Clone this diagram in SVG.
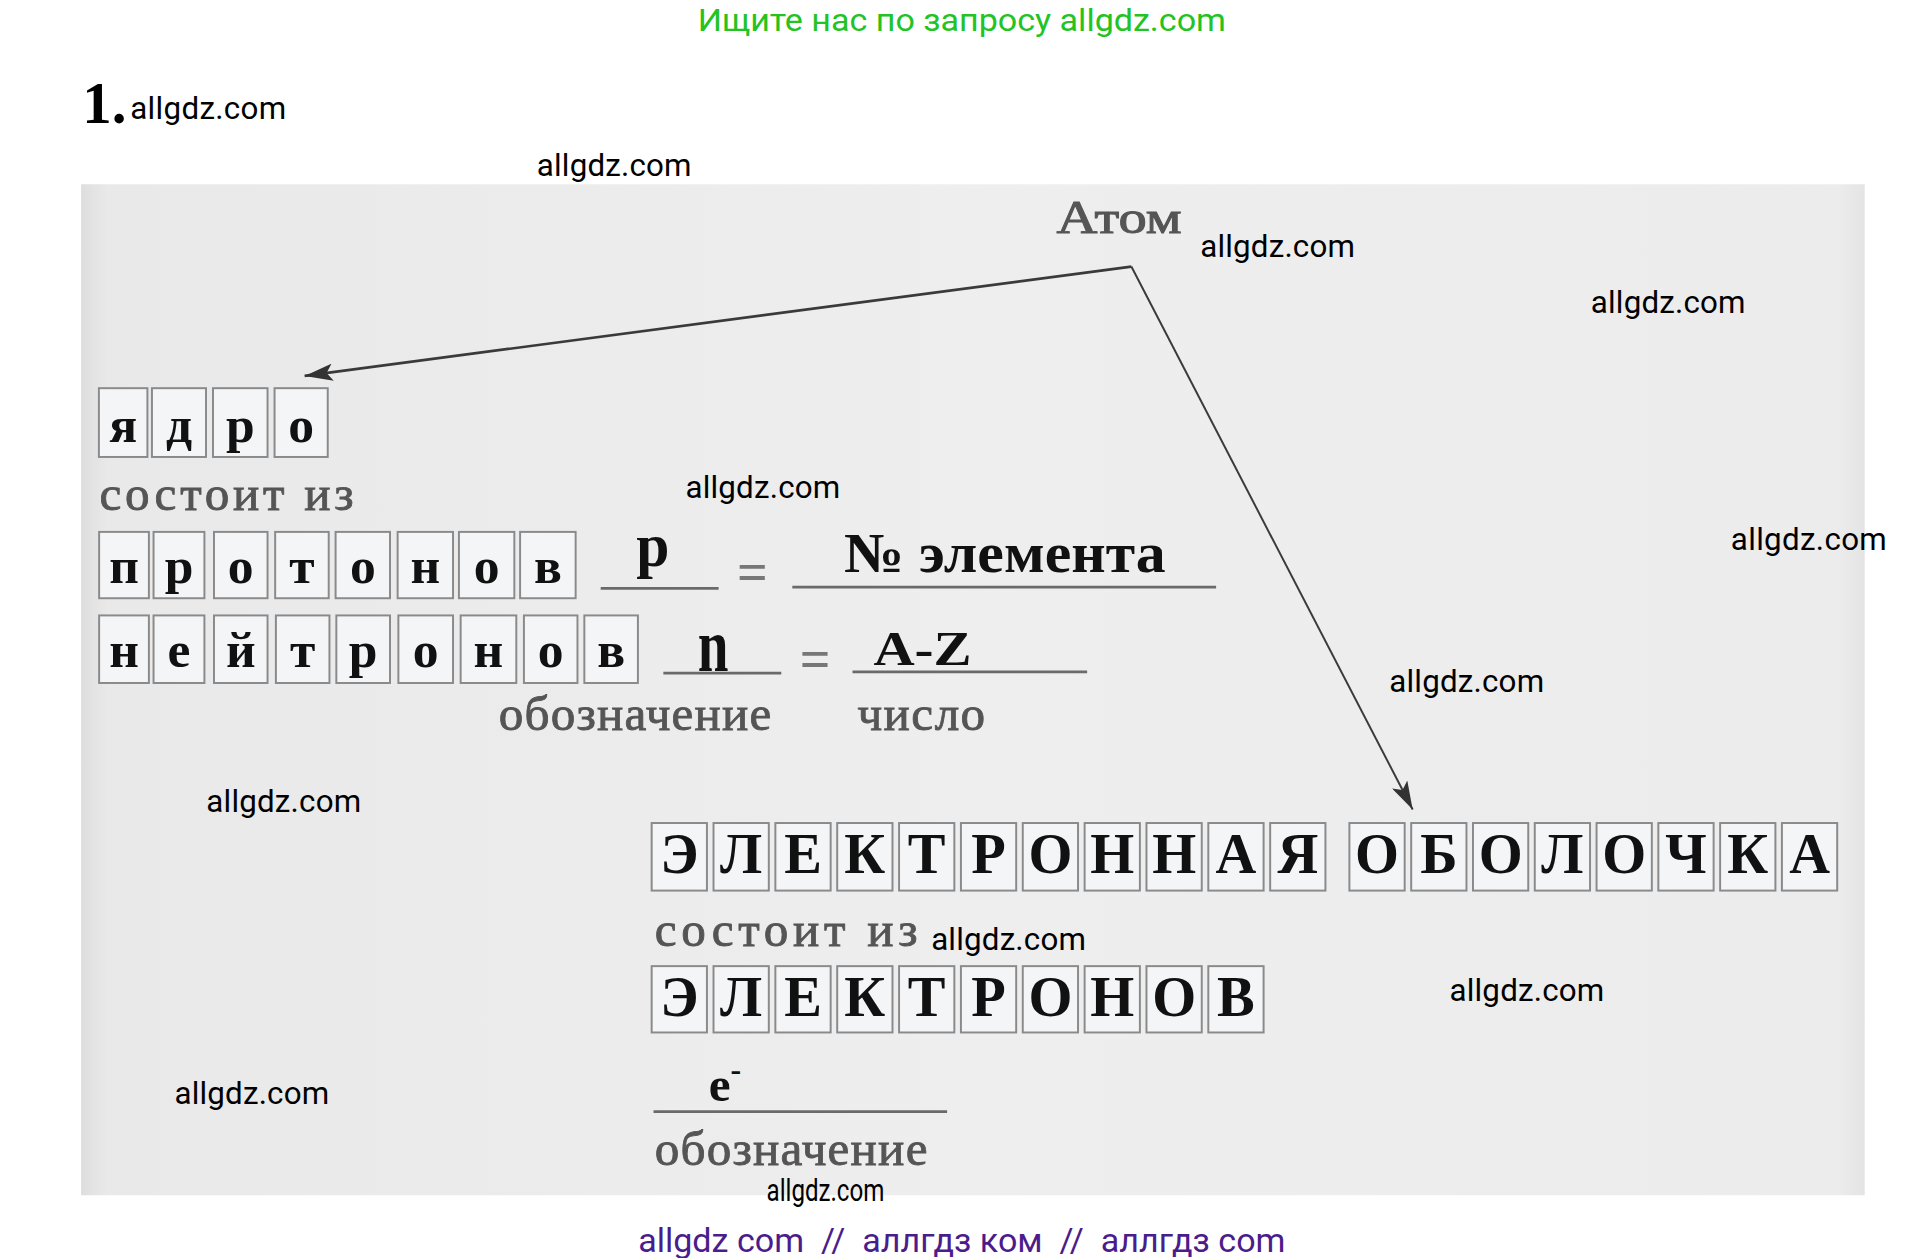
<svg xmlns="http://www.w3.org/2000/svg" width="1915" height="1258" viewBox="0 0 1915 1258">
<defs>
<style>
.box{fill:#f4f5f7;stroke:#8a8a8a;stroke-width:1.6}
.bl{font-family:"Liberation Serif","DejaVu Serif",serif;font-weight:bold;font-size:42px;fill:#111;text-anchor:middle}
.bu{font-family:"Liberation Serif","DejaVu Serif",serif;font-weight:bold;font-size:46px;fill:#111;text-anchor:middle}
.gray{font-family:"Liberation Serif","DejaVu Serif",serif;font-size:40px;fill:#555;stroke:#555;stroke-width:0.7}
.ans{font-family:"Liberation Serif","DejaVu Serif",serif;font-weight:bold;fill:#111}
.eq{font-family:"Liberation Serif","DejaVu Serif",serif;font-weight:bold;font-size:44px;fill:#777}
.ul{stroke:#6a6a6a;stroke-width:2.2;fill:none}
.wm{font-family:Roboto,"Liberation Sans",sans-serif;font-size:25.5px;fill:#000}
.conn{stroke:#3a3a3a;fill:none}
</style>
<marker id="ah" markerUnits="userSpaceOnUse" markerWidth="24" markerHeight="14" refX="23" refY="7" orient="auto">
<path d="M0,0 L23,7 L0,14 L5,7 z" fill="#333"/>
</marker>
<linearGradient id="bg" x1="0" y1="0" x2="1" y2="0">
<stop offset="0" stop-color="#dedede"/>
<stop offset="0.015" stop-color="#e9e9e9"/>
<stop offset="0.5" stop-color="#eeeeef"/>
<stop offset="0.985" stop-color="#ececec"/>
<stop offset="1" stop-color="#e4e4e4"/>
</linearGradient>
</defs>
<rect x="0" y="0" width="1915" height="1258" fill="#ffffff"/>
<g transform="scale(1.2284)">
<rect x="66" y="150" width="1452" height="823" fill="url(#bg)"/>

<text x="783" y="25" font-family="Roboto,'Liberation Sans',sans-serif" font-size="26" fill="#22c322" text-anchor="middle" textLength="430" lengthAdjust="spacingAndGlyphs">Ищите нас по запросу allgdz.com</text>
<text x="67" y="100" font-family="'Liberation Serif',serif" font-weight="bold" font-size="48" fill="#000">1.</text>

<g id="watermarks">
<text class="wm" x="106" y="97" textLength="127">allgdz.com</text>
<text class="wm" x="437" y="143" textLength="126">allgdz.com</text>
<text class="wm" x="977" y="209" textLength="126">allgdz.com</text>
<text class="wm" x="1295" y="255" textLength="126">allgdz.com</text>
<text class="wm" x="558" y="405" textLength="126">allgdz.com</text>
<text class="wm" x="1409" y="448" textLength="127">allgdz.com</text>
<text class="wm" x="1131" y="563" textLength="126">allgdz.com</text>
<text class="wm" x="168" y="661" textLength="126">allgdz.com</text>
<text class="wm" x="758" y="773" textLength="126">allgdz.com</text>
<text class="wm" x="1180" y="815" textLength="126">allgdz.com</text>
<text class="wm" x="142" y="899" textLength="126">allgdz.com</text>
<text class="wm" x="624" y="978" font-size="16" textLength="96" lengthAdjust="spacingAndGlyphs">allgdz.com</text>
</g>

<g id="atom">
<text x="860" y="190" font-family="'Liberation Serif',serif" font-size="38" fill="#555" stroke="#555" stroke-width="0.8" textLength="102" lengthAdjust="spacingAndGlyphs">Атом</text>
</g>

<g id="connectors">
<path class="conn" stroke-width="2.2" d="M921,217 L248,306" marker-end="url(#ah)"/>
<path class="conn" stroke-width="1.6" d="M921,217 L1150,659" marker-end="url(#ah)"/>
</g>

<g id="yadro">
<rect class="box" x="80.5" y="316" width="39.5" height="56"/><text class="bl" x="100.25" y="360">я</text>
<rect class="box" x="123.7" y="316" width="44" height="56"/><text class="bl" x="145.7" y="360">д</text>
<rect class="box" x="173.4" y="316" width="44.4" height="56"/><text class="bl" x="195.6" y="360">р</text>
<rect class="box" x="223.5" y="316" width="43.3" height="56"/><text class="bl" x="245.15" y="360">о</text>
</g>
<text class="gray" x="81" y="415" textLength="207">состоит  из</text>

<g id="protonov">
<rect class="box" x="80.7" y="433" width="40.5" height="54"/><text class="bl" x="100.95" y="475">п</text>
<rect class="box" x="125" y="433" width="41.4" height="54"/><text class="bl" x="145.7" y="475">р</text>
<rect class="box" x="174.2" y="433" width="43.6" height="54"/><text class="bl" x="196" y="475">о</text>
<rect class="box" x="224" y="433" width="43.6" height="54"/><text class="bl" x="245.8" y="475">т</text>
<rect class="box" x="273.2" y="433" width="44.3" height="54"/><text class="bl" x="295.35" y="475">о</text>
<rect class="box" x="323.7" y="433" width="45.1" height="54"/><text class="bl" x="346.25" y="475">н</text>
<rect class="box" x="373.6" y="433" width="45.1" height="54"/><text class="bl" x="396.15" y="475">о</text>
<rect class="box" x="423.4" y="433" width="45.2" height="54"/><text class="bl" x="446" y="475">в</text>
</g>

<g id="neitronov">
<rect class="box" x="80.7" y="501" width="40.5" height="55"/><text class="bl" x="100.95" y="543">н</text>
<rect class="box" x="125" y="501" width="41.4" height="55"/><text class="bl" x="145.7" y="543">е</text>
<rect class="box" x="174.2" y="501" width="43.6" height="55"/><text class="bl" x="196" y="543">й</text>
<rect class="box" x="224.6" y="501" width="43.6" height="55"/><text class="bl" x="246.4" y="543">т</text>
<rect class="box" x="273.8" y="501" width="43.7" height="55"/><text class="bl" x="295.65" y="543">р</text>
<rect class="box" x="324.3" y="501" width="44.5" height="55"/><text class="bl" x="346.55" y="543">о</text>
<rect class="box" x="375" y="501" width="45.3" height="55"/><text class="bl" x="397.65" y="543">н</text>
<rect class="box" x="426.5" y="501" width="43.6" height="55"/><text class="bl" x="448.3" y="543">о</text>
<rect class="box" x="475.7" y="501" width="43.6" height="55"/><text class="bl" x="497.5" y="543">в</text>
</g>

<g id="formulas">
<text class="ans" x="518" y="461" font-size="50" textLength="27" lengthAdjust="spacingAndGlyphs">p</text>
<line class="ul" x1="489" y1="479" x2="585" y2="479"/>
<text class="eq" x="600" y="480">=</text>
<text class="ans" x="687" y="466" font-size="46" textLength="262" lengthAdjust="spacingAndGlyphs">№ элемента</text>
<line class="ul" x1="645" y1="478" x2="990" y2="478"/>
<text class="ans" transform="translate(568,546) scale(1,1.2)" x="0" y="0" font-size="52" textLength="25" lengthAdjust="spacingAndGlyphs">n</text>
<line class="ul" x1="540" y1="548" x2="636" y2="548"/>
<text class="eq" x="651" y="551">=</text>
<text class="ans" x="711" y="541" font-size="40" textLength="80" lengthAdjust="spacingAndGlyphs">A-Z</text>
<line class="ul" x1="694" y1="547" x2="885" y2="547"/>
<text class="gray" x="406" y="594" textLength="222">обозначение</text>
<text class="gray" x="698" y="594" textLength="104">число</text>
</g>

<g id="obolochka">
<rect class="box" x="530.5" y="670" width="45" height="55"/><text class="bu" x="553" y="711">Э</text>
<rect class="box" x="580.85" y="670" width="45" height="55"/><text class="bu" x="603.35" y="711">Л</text>
<rect class="box" x="631.2" y="670" width="45" height="55"/><text class="bu" x="653.7" y="711">Е</text>
<rect class="box" x="681.55" y="670" width="45" height="55"/><text class="bu" x="704.05" y="711">К</text>
<rect class="box" x="731.9" y="670" width="45" height="55"/><text class="bu" x="754.4" y="711">Т</text>
<rect class="box" x="782.25" y="670" width="45" height="55"/><text class="bu" x="804.75" y="711">Р</text>
<rect class="box" x="832.6" y="670" width="45" height="55"/><text class="bu" x="855.1" y="711">О</text>
<rect class="box" x="882.95" y="670" width="45" height="55"/><text class="bu" x="905.45" y="711">Н</text>
<rect class="box" x="933.3" y="670" width="45" height="55"/><text class="bu" x="955.8" y="711">Н</text>
<rect class="box" x="983.65" y="670" width="45" height="55"/><text class="bu" x="1006.15" y="711">А</text>
<rect class="box" x="1034" y="670" width="45" height="55"/><text class="bu" x="1056.5" y="711">Я</text>
<rect class="box" x="1098.5" y="670" width="45" height="55"/><text class="bu" x="1121" y="711">О</text>
<rect class="box" x="1148.8" y="670" width="45" height="55"/><text class="bu" x="1171.3" y="711">Б</text>
<rect class="box" x="1199.1" y="670" width="45" height="55"/><text class="bu" x="1221.6" y="711">О</text>
<rect class="box" x="1249.4" y="670" width="45" height="55"/><text class="bu" x="1271.9" y="711">Л</text>
<rect class="box" x="1299.7" y="670" width="45" height="55"/><text class="bu" x="1322.2" y="711">О</text>
<rect class="box" x="1350" y="670" width="45" height="55"/><text class="bu" x="1372.5" y="711">Ч</text>
<rect class="box" x="1400.3" y="670" width="45" height="55"/><text class="bu" x="1422.8" y="711">К</text>
<rect class="box" x="1450.6" y="670" width="45" height="55"/><text class="bu" x="1473.1" y="711">А</text>
</g>
<text class="gray" x="533" y="770" textLength="214">состоит  из</text>

<g id="elektronov">
<rect class="box" x="530.5" y="786.5" width="45" height="54"/><text class="bu" x="553" y="827">Э</text>
<rect class="box" x="580.85" y="786.5" width="45" height="54"/><text class="bu" x="603.35" y="827">Л</text>
<rect class="box" x="631.2" y="786.5" width="45" height="54"/><text class="bu" x="653.7" y="827">Е</text>
<rect class="box" x="681.55" y="786.5" width="45" height="54"/><text class="bu" x="704.05" y="827">К</text>
<rect class="box" x="731.9" y="786.5" width="45" height="54"/><text class="bu" x="754.4" y="827">Т</text>
<rect class="box" x="782.25" y="786.5" width="45" height="54"/><text class="bu" x="804.75" y="827">Р</text>
<rect class="box" x="832.6" y="786.5" width="45" height="54"/><text class="bu" x="855.1" y="827">О</text>
<rect class="box" x="882.95" y="786.5" width="45" height="54"/><text class="bu" x="905.45" y="827">Н</text>
<rect class="box" x="933.3" y="786.5" width="45" height="54"/><text class="bu" x="955.8" y="827">О</text>
<rect class="box" x="983.65" y="786.5" width="45" height="54"/><text class="bu" x="1006.15" y="827">В</text>
</g>

<g id="electron-symbol">
<text class="ans" x="577" y="896" font-size="40">e<tspan dy="-17" font-size="26">-</tspan></text>
<line class="ul" x1="532" y1="905" x2="771" y2="905"/>
<text class="gray" x="533" y="948" textLength="222">обозначение</text>
</g>

<text x="783" y="1019" font-family="Roboto,'Liberation Sans',sans-serif" font-size="27" fill="#4b1c8c" text-anchor="middle" style="white-space:pre" textLength="527" lengthAdjust="spacingAndGlyphs">allgdz com  //  аллгдз ком  //  аллгдз com</text>
</g>
</svg>
